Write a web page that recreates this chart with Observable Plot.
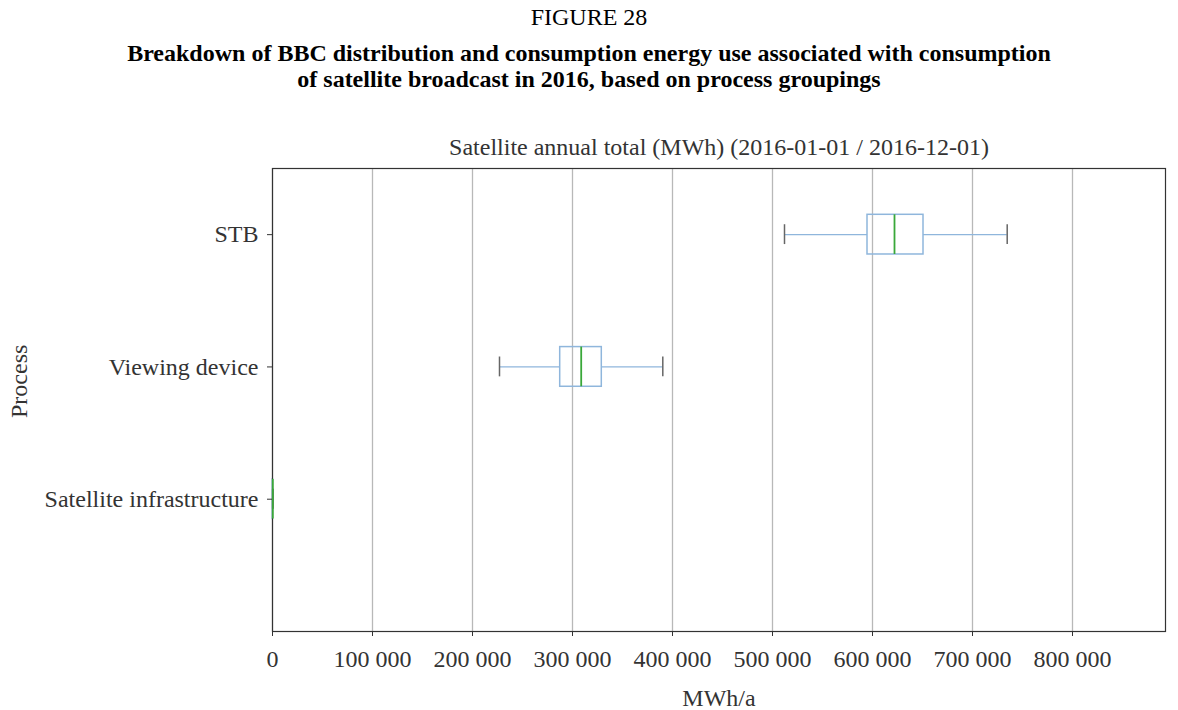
<!DOCTYPE html>
<html>
<head>
<meta charset="utf-8">
<script src="https://cdn.jsdelivr.net/npm/d3@7"></script>
<script src="https://cdn.jsdelivr.net/npm/@observablehq/plot@0.6"></script>
<style>
  body { margin: 0; background: #fff; font-family: "Liberation Serif", "DejaVu Serif", serif; color: #000; }
  #head { height: 100px; text-align: center; position: relative; }
  .hl { position: absolute; width: 100%; font-size: 24px; line-height: 25px; white-space: nowrap; }
  #fig { top: 5px; }
  #t1 { top: 41px; font-weight: bold; }
  #t2 { top: 67px; font-weight: bold; }
</style>
</head>
<body>
<div id="head">
  <div id="fig" class="hl">FIGURE 28</div>
  <div id="t1" class="hl">Breakdown of BBC distribution and consumption energy use associated with consumption</div>
  <div id="t2" class="hl">of satellite broadcast in 2016, based on process groupings</div>
</div>
<div id="chart"></div>
<script>
const processes = ["Satellite infrastructure", "Viewing device", "STB"];
const whiskerLow = [150, 227000, 512000];
const q1 = [250, 287700, 595000];
const median = [300, 308700, 622000];
const q3 = [350, 329300, 651000];
const whiskerHigh = [450, 390300, 734700];
const xTicks = [0, 100000, 200000, 300000, 400000, 500000, 600000, 700000, 800000];
const chartTitle = "Satellite annual total (MWh) (2016-01-01 / 2016-12-01)";
const xLabel = "MWh/a";
const yLabel = "Process";

const rows = processes.map((p, i) => ({
  p, pos: i + 1, lo: whiskerLow[i], q1: q1[i], med: median[i], q3: q3[i], hi: whiskerHigh[i]
}));

const fmt = d => d3.format(",")(d).replace(/,/g, " ");
const boxH = 0.15, capH = 0.075;

const chart = Plot.plot({
  width: 1178,
  height: 610,
  marginLeft: 272,
  marginRight: 13,
  marginTop: 68,
  marginBottom: 79,
  style: { fontFamily: "Liberation Serif, serif", fontSize: "24px", color: "#333", background: "#fff", overflow: "visible" },
  x: { domain: [0, 893000], label: null },
  y: { domain: [0, 3.5], label: null },
  marks: [
    Plot.gridX(xTicks, { stroke: "#b8b8b8", strokeOpacity: 1, strokeWidth: 1.3 }),
    Plot.ruleY(rows, { y: "pos", x1: "lo", x2: "q1", stroke: "#8fb6dc", strokeWidth: 1.2 }),
    Plot.ruleY(rows, { y: "pos", x1: "q3", x2: "hi", stroke: "#8fb6dc", strokeWidth: 1.2 }),
    Plot.rect(rows, { x1: "q1", x2: "q3", y1: d => d.pos - boxH, y2: d => d.pos + boxH, fill: "none", stroke: "#8fb6dc", strokeWidth: 1.5 }),
    Plot.ruleX(rows, { x: "lo", y1: d => d.pos - capH, y2: d => d.pos + capH, stroke: "#666", strokeWidth: 1.5 }),
    Plot.ruleX(rows, { x: "hi", y1: d => d.pos - capH, y2: d => d.pos + capH, stroke: "#666", strokeWidth: 1.5 }),
    Plot.frame({ stroke: "#333", strokeWidth: 1.2 }),
    Plot.ruleX(rows, { x: "med", y1: d => d.pos - boxH, y2: d => d.pos + boxH, stroke: "#3aa83a", strokeWidth: 1.8 }),
    Plot.axisX({ ticks: xTicks, tickFormat: fmt, tickSize: 5, tickPadding: 13, label: null, stroke: "#333", fill: "#333", fontSize: 24 }),
    Plot.axisY({ ticks: [1, 2, 3], tickFormat: d => processes[d - 1], tickSize: 5, tickPadding: 9, label: null, stroke: "#333", fill: "#333", fontSize: 24 }),
    Plot.text([chartTitle], { frameAnchor: "top", lineAnchor: "middle", dy: -21, text: d => d, fill: "#333", fontSize: 24 }),
    Plot.text([xLabel], { frameAnchor: "bottom", lineAnchor: "middle", dy: 67, text: d => d, fill: "#333", fontSize: 24 }),
    Plot.text([yLabel], { frameAnchor: "left", lineAnchor: "middle", dx: -253, dy: 18, rotate: -90, text: d => d, fill: "#333", fontSize: 24 })
  ]
});
document.getElementById("chart").appendChild(chart);
</script>
</body>
</html>
